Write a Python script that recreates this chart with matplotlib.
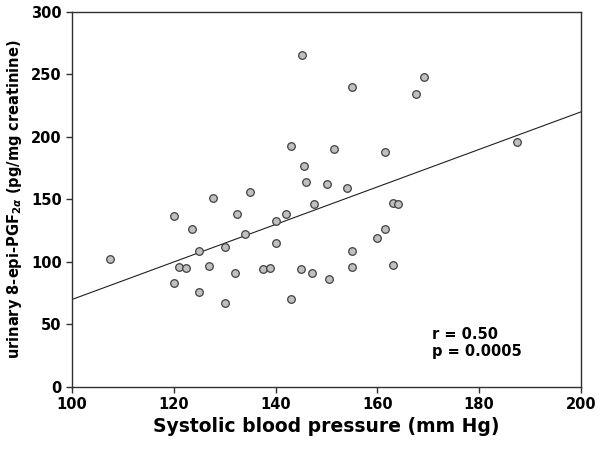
import matplotlib
matplotlib.use("Agg")
import matplotlib.pyplot as plt
import numpy as np

# systolic blood pressure (mm Hg)
sbp = [107.5, 120, 120, 121, 122.5, 123.5, 125, 125, 127, 127.7,
       130, 130, 132, 132.5, 134, 135, 137.5, 139, 140, 140,
       142, 143, 143, 145.2, 145, 145.5, 146, 147.2, 147.5, 150.1,
       150.5, 151.5, 154, 155, 155, 155, 160, 161.5, 161.5, 163,
       164, 163, 167.6, 169.2, 187.4]
# urinary 8-epi-PGF2a (pg/mg creatinine)
pgf = [102, 137, 83, 96, 95, 126, 109, 76, 97, 151,
       112, 67, 91, 138, 122, 156, 94, 95, 115, 133,
       138, 193, 70, 265.5, 94, 177, 164, 91, 146, 162,
       86, 190, 159, 240, 109, 96, 119, 126, 188, 147,
       146, 97.5, 234, 248, 196]

fit_intercept = -80.0
fit_slope = 1.5

fig = plt.figure(figsize=(6, 4.53), dpi=100)
ax = fig.add_axes([0.12, 0.1457, 0.848, 0.828])

ax.scatter(sbp, pgf, s=30, facecolor='#c0c0c0', edgecolor='#404040', linewidths=0.9, zorder=3)

xl = np.array([100, 200])
ax.plot(xl, fit_intercept + fit_slope * xl, color='#202020', lw=0.8)

ax.set_xlim(100, 200)
ax.set_ylim(0, 300)
ax.set_xticks([100, 120, 140, 160, 180, 200])
ax.set_yticks([0, 50, 100, 150, 200, 250, 300])

for s in ax.spines.values():
    s.set_color('#303030')
    s.set_linewidth(1.0)
ax.tick_params(direction='out', length=4, width=1, color='#303030', labelsize=10.5)
for lab in ax.get_xticklabels() + ax.get_yticklabels():
    lab.set_fontweight('bold')

ax.set_xlabel('Systolic blood pressure (mm Hg)', fontsize=13.5, fontweight='bold', labelpad=3)
ax.set_ylabel(r'urinary 8-epi-PGF$_{\boldsymbol{2\alpha}}$ (pg/mg creatinine)',
              fontsize=10.5, fontweight='bold', labelpad=5)

ax.text(170.8, 48, 'r = 0.50\np = 0.0005', fontsize=10.5, fontweight='bold',
        va='top', ha='left', linespacing=1.15)

fig.savefig('out.png', dpi=100)
